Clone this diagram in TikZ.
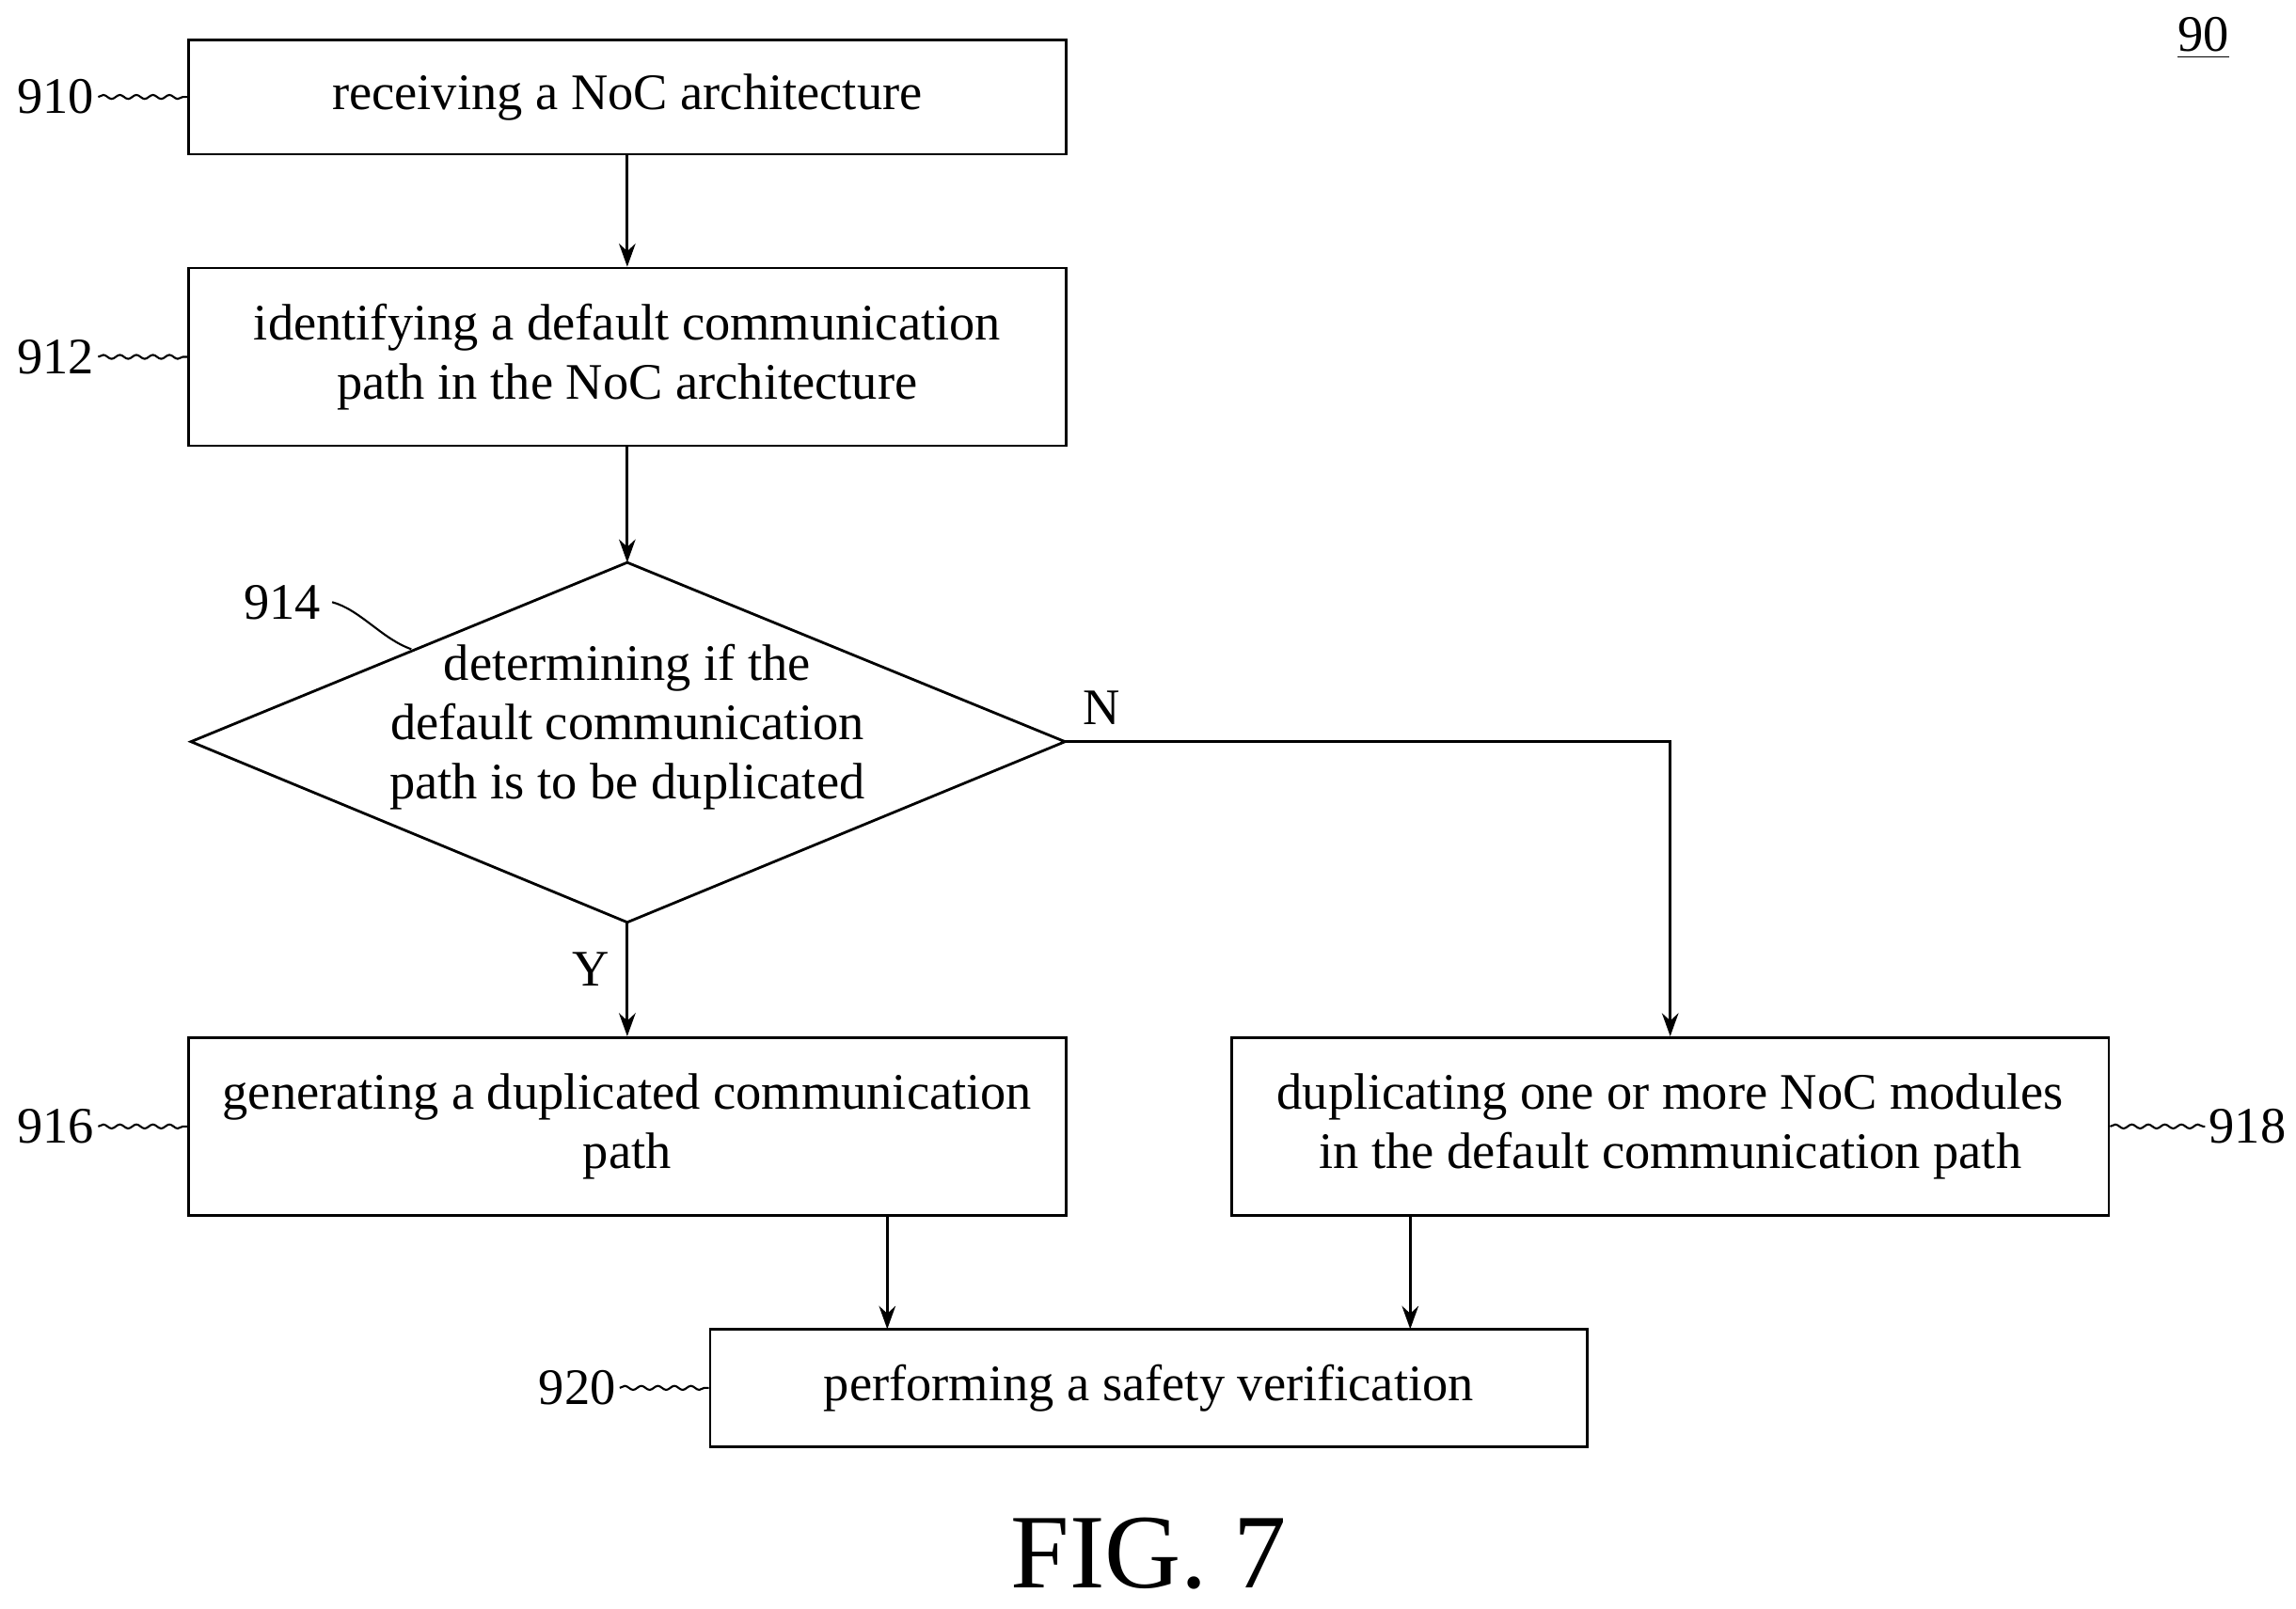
\documentclass[tikz,border=0pt]{standalone}
\usepackage{fontspec}
\setmainfont{Liberation Serif}
\usetikzlibrary{arrows.meta,decorations.pathmorphing}
\begin{document}
\begin{tikzpicture}[x=0.015618cm,y=-0.015618cm,
  box/.style={draw,line width=0.8pt,align=center,font=\fontsize{15.5}{18}\selectfont},
  arr/.style={line width=0.8pt,-{Stealth[length=7pt,width=5pt]}},
  lead/.style={line width=0.6pt,decorate,decoration={snake,amplitude=0.6pt,segment length=5pt}},
  lab/.style={font=\fontsize{15.5}{18}\selectfont}]
\useasboundingbox (0,0) rectangle (1563,1095);
\node[box,minimum width=9.33cm,minimum height=1.22cm] (n910) at (427,66) {receiving a NoC architecture};
\node[box,minimum width=9.33cm,minimum height=1.89cm] (n912) at (427,243) {identifying a default communication\\path in the NoC architecture};
\coordinate (dT) at (427,383); \coordinate (dB) at (427,628);
\coordinate (dL) at (130,505); \coordinate (dR) at (725,505);
\draw[line width=0.8pt] (dT) -- (dR) -- (dB) -- (dL) -- cycle;
\node[lab,align=center] (n914t) at (427,495) {determining if the\\default communication\\path is to be duplicated};
\node[box,minimum width=9.33cm,minimum height=1.89cm] (n916) at (427,767) {generating a duplicated communication\\path};
\node[box,minimum width=9.33cm,minimum height=1.89cm] (n918) at (1137,767) {duplicating one or more NoC modules\\in the default communication path};
\node[box,minimum width=9.33cm,minimum height=1.25cm] (n920) at (782,945) {performing a safety verification};
\draw[arr] (n910.south) -- (n912.north);
\draw[arr] (n912.south) -- (dT);
\draw[arr] (dB) -- (n916.north);
\draw[arr] (dR) -| (n918.north);
\draw[arr] (604,828) -- (604,905);
\draw[arr] (960,828) -- (960,905);
\node[lab] (N) at (750,482) {N};
\node[lab] (Y) at (402,660) {Y};
\node[lab,inner sep=1pt] (l910) at (38,66) {910};
\node[lab,inner sep=1pt] (l912) at (38,243) {912};
\node[lab,inner sep=1pt] (l916) at (38,767) {916};
\node[lab,inner sep=1pt] (l918) at (1530,767) {918};
\node[lab,inner sep=1pt] (l920) at (393,945) {920};
\node[lab] (l914) at (192,410) {914};
\draw[lead] (l910.east) -- (n910.west);
\draw[lead] (l912.east) -- (n912.west);
\draw[lead] (l916.east) -- (n916.west);
\draw[lead] (n918.east) -- (l918.west);
\draw[lead] (l920.east) -- (n920.west);
\draw[line width=0.6pt] (l914.east) .. controls (245,415) and (260,435) .. (280,442);
\node[lab] (l90) at (1500,26) {\underline{90}};
\node[font=\fontsize{32}{36}\selectfont,inner sep=0pt] (fig) at (782,1058) {FIG. 7};
\end{tikzpicture}
\end{document}
